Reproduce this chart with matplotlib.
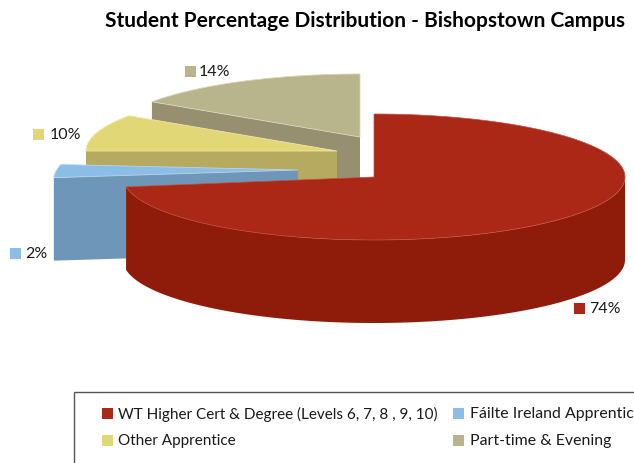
import numpy as np
import matplotlib
matplotlib.use("Agg")
import matplotlib.pyplot as plt
from matplotlib.patches import Rectangle

plt.rcParams['font.family'] = ['Lato', 'DejaVu Sans']

#Values as printed on the chart
categories = ["WT Higher Cert & Degree (Levels 6, 7, 8 , 9, 10)", "Fáilte Ireland Apprentice",
              "Other Apprentice", "Part-time & Evening"]
percents = [74, 2, 10, 14]

#Sweep of each slice as drawn in the picture, in degrees (the 3D view distorts them a bit)
sweep_deg = [261, 12, 34, 56]
twist_deg = [0, -2, 5, 0]

top_colors = ["#ab2817", "#8bbde6", "#e2d777", "#b8b48c"]
face_colors = ["#8f1c0a", "#6d96b8", "#b5aa60", "#969070"]
edge_colors = ["#c4503f", "#b5d6f0", "#efe8a6", "#d8d5b8"]

#Exploded centres in pixels, radii at slice start and end, and extrusion depth
centers = [(374, 177), (298, 170), (337, 151), (360, 137)]
radii = [251, 246, 251, 251]
radii_end = [251, 238, 251, 251]
ry = 63
depth = 83

label_boxes = [(574, 303), (10, 248), (33, 129), (185, 66)]
label_text_x = [589, 25, 50, 199]

fig = plt.figure(figsize=(6.34, 4.63), dpi=100)
ax = fig.add_axes([0, 0, 1, 1])
ax.set_xlim(0, 634)
ax.set_ylim(463, 0)
ax.axis('off')


def arc(cx, cy, rx0, rx1, a0, a1):
    t = np.radians(np.linspace(a0, a1, 200))
    rx = np.linspace(rx0, rx1, 200)
    return cx + rx*np.cos(t), cy - ry*np.sin(t)


#Work out where each slice starts and ends, going clockwise from the top
angles = []
a = 90
for sweep, twist in zip(sweep_deg, twist_deg):
    a = a + twist
    angles.append((a, a - sweep))
    a = a - sweep

#Back to front: tan, yellow, blue, red
for i in [3, 2, 1]:
    cx, cy = centers[i]
    a0, a1 = angles[i]
    x, y = arc(cx, cy, radii[i], radii_end[i], a0, a1)
    #the cut face on the near side of the slice
    ax.fill([cx, x[0], x[0], cx], [cy, y[0], y[0] + depth, cy + depth],
            color=face_colors[i], lw=0, zorder=10 - i)
    ax.fill(np.r_[cx, x], np.r_[cy, y], facecolor=top_colors[i], edgecolor=edge_colors[i],
            lw=0.6, zorder=10 - i)

#Big red slice, outer wall runs from the right end round the front
cx, cy = centers[0]
a0, a1 = angles[0]
x, y = arc(cx, cy, radii[0], radii_end[0], 0, a1)
ax.fill(np.r_[x, x[::-1]], np.r_[y, y[::-1] + depth], color=face_colors[0], lw=0, zorder=20)
x, y = arc(cx, cy, radii[0], radii_end[0], a0, a1)
ax.fill(np.r_[cx, x], np.r_[cy, y], facecolor=top_colors[0], edgecolor=edge_colors[0],
        lw=0.5, zorder=21)

#Data labels with their little keys
for (bx, by), tx, pct, col in zip(label_boxes, label_text_x, percents, top_colors):
    ax.add_patch(Rectangle((bx, by), 11, 11, color=col, lw=0, zorder=30))
    ax.text(tx, by + 6, f"{pct}%", fontsize=11.5, color="#1a1a1a", va='center', zorder=30)

ax.text(105, 21, "Student Percentage Distribution - Bishopstown Campus", fontsize=15,
        fontweight='bold', color="black", va='center')

#Legend box runs off the right and bottom of the picture
ax.plot([74, 74, 634], [463, 392, 392], color="#555555", lw=1, solid_joinstyle='miter')
legend_x = [102, 453, 102, 453]
legend_y = [408, 408, 435, 435]
legend_size = [11, 11.4, 11, 11.4]
for lx, ly, name, col, fs in zip(legend_x, legend_y, categories, top_colors, legend_size):
    ax.add_patch(Rectangle((lx, ly), 11, 11, color=col, lw=0))
    ax.text(lx + 16.5, ly + 6, name, fontsize=fs, color="#1a1a1a", va='center')

fig.savefig("out.png", dpi=100)
